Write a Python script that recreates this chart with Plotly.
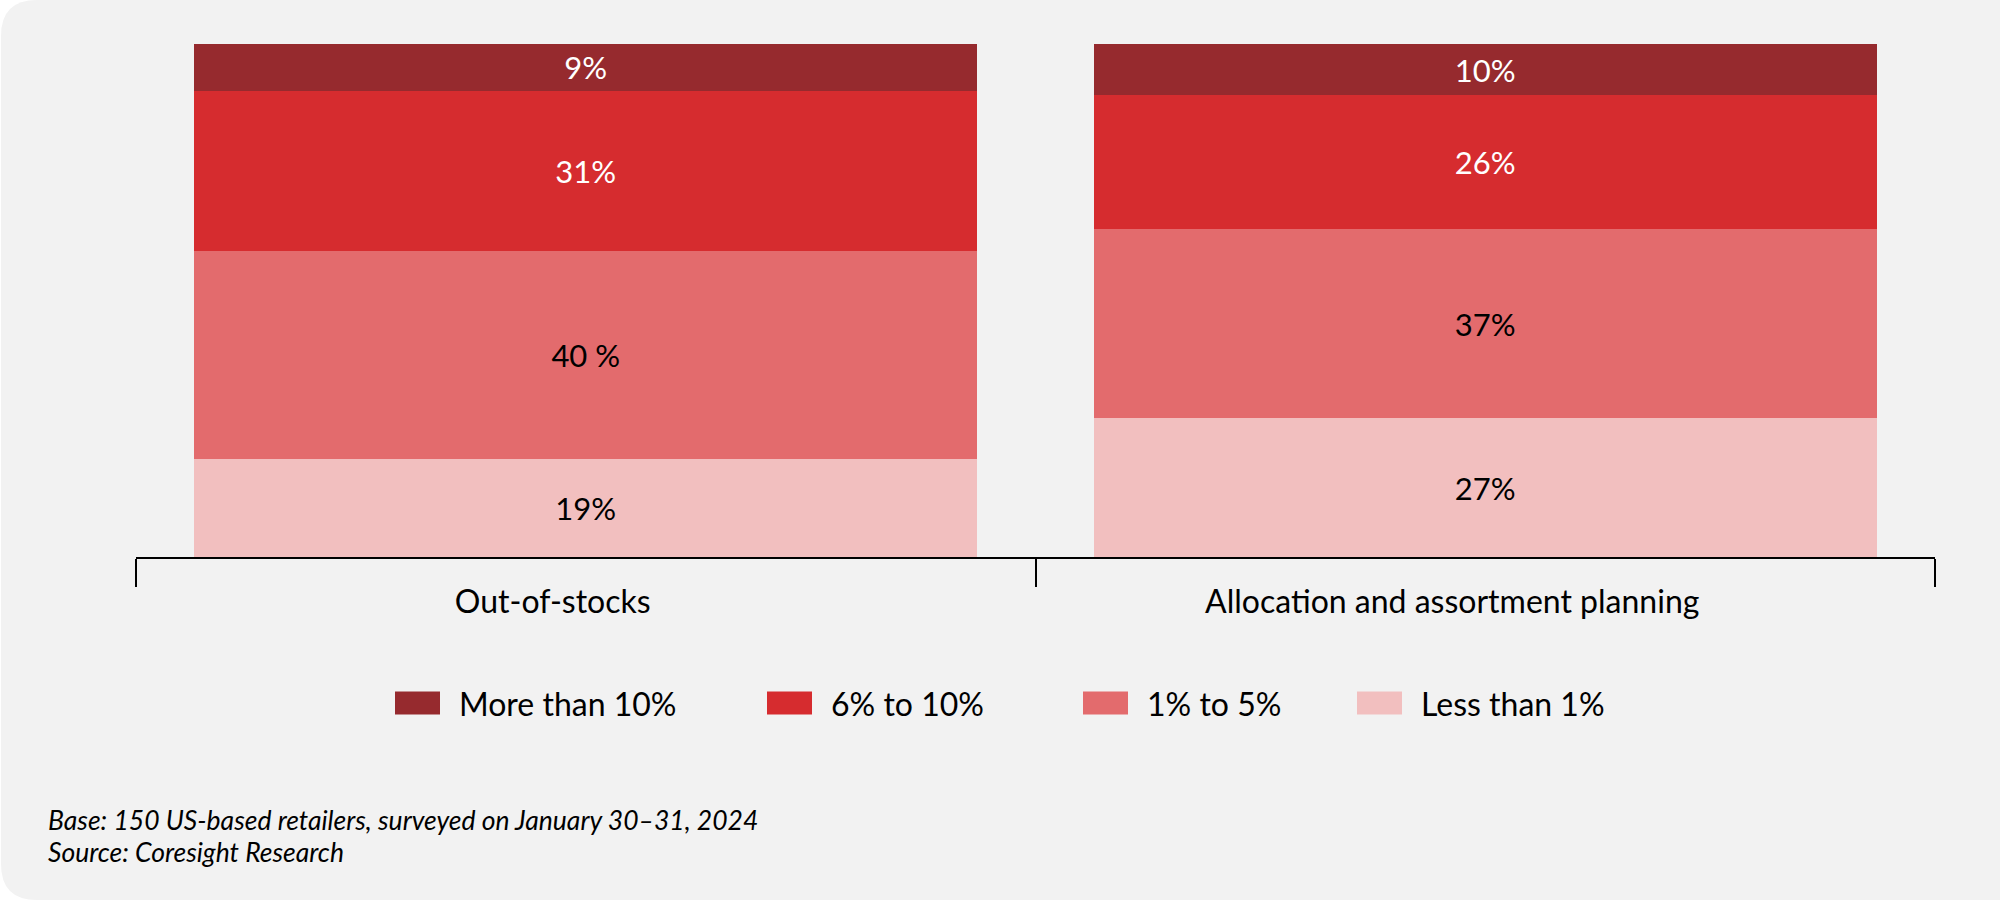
import plotly.graph_objects as go

# ---------------- data ----------------
categories = ["Out-of-stocks", "Allocation and assortment planning"]
series_names = ["More than 10%", "6% to 10%", "1% to 5%", "Less than 1%"]
more_than_10 = [9, 10]
six_to_10 = [31, 26]
one_to_5 = [40, 37]
less_than_1 = [19, 27]
label_more_than_10 = ["9%", "10%"]
label_six_to_10 = ["31%", "26%"]
label_one_to_5 = ["40 %", "37%"]
label_less_than_1 = ["19%", "27%"]
footnote_lines = ["Base: 150 US-based retailers, surveyed on January 30\u201331, 2024",
                  "Source: Coresight Research"]

# ---------------- style ----------------
colors = {"More than 10%": "#962a2e", "6% to 10%": "#d62c2f",
          "1% to 5%": "#e36b6d", "Less than 1%": "#f2bfbf"}
text_colors = {"More than 10%": "white", "6% to 10%": "white",
               "1% to 5%": "black", "Less than 1%": "black"}
FONT = "Lato, 'Open Sans', sans-serif"

W, H = 2000, 908
ML, MR, MT, MB = 136, 65, 44, 351
PW, PH = W - ML - MR, H - MT - MB


def px(x):
    return (x - ML) / PW


def py(y):
    return (H - MB - y) / PH


def P(x, y):
    return f"{px(x):.5f},{py(y):.5f}"


fig = go.Figure()

stack = [("Less than 1%", less_than_1, label_less_than_1),
         ("1% to 5%", one_to_5, label_one_to_5),
         ("6% to 10%", six_to_10, label_six_to_10),
         ("More than 10%", more_than_10, label_more_than_10)]

for name, vals, labels in stack:
    fig.add_trace(go.Bar(
        x=categories, y=vals, name=name, text=labels,
        texttemplate="%{text}", textposition="inside", insidetextanchor="middle",
        textangle=0, constraintext="none",
        textfont=dict(family=FONT, size=31, color=text_colors[name]),
        marker=dict(color=colors[name], line=dict(width=0)),
        width=0.87, showlegend=False, hoverinfo="skip",
    ))

# rounded card background
L, T, R, B, r = 1, 0, 2000, 900, 36
card = (f"M {P(L + r, T)} L {P(R, T)} L {P(R, B)} L {P(L + r, B)} "
        f"Q {P(L, B)} {P(L, B - r)} L {P(L, T + r)} Q {P(L, T)} {P(L + r, T)} Z")
shapes = [dict(type="path", path=card, xref="paper", yref="paper",
               fillcolor="#f2f2f2", line=dict(width=0), layer="below")]

annotations = []
# custom legend
legend_sq_x = [395, 767, 1083, 1357]
legend_y = 703
for name, sx in zip(series_names, legend_sq_x):
    shapes.append(dict(type="rect", xref="paper", yref="paper",
                       x0=px(sx), x1=px(sx + 45), y0=py(legend_y + 11.5), y1=py(legend_y - 11.5),
                       fillcolor=colors[name], line=dict(width=0)))
    annotations.append(dict(text=name, xref="paper", yref="paper", x=px(sx + 62), y=py(legend_y),
                            xanchor="left", yanchor="middle", showarrow=False,
                            font=dict(family=FONT, size=32, color="black")))

# footnotes
for i, line in enumerate(footnote_lines):
    annotations.append(dict(text=f"<i>{line}</i>", xref="paper", yref="paper",
                            x=px(46), y=py(820 + 32 * i), xanchor="left", yanchor="middle",
                            showarrow=False, font=dict(family=FONT, size=26.5, color="black")))

fig.update_layout(
    width=W, height=H,
    margin=dict(l=ML, r=MR, t=MT, b=MB, pad=0),
    barmode="stack", barnorm="percent",
    paper_bgcolor="white", plot_bgcolor="rgba(0,0,0,0)",
    font=dict(family=FONT, size=32, color="black"),
    xaxis=dict(type="category", range=[-0.5, 1.5], showline=True, linecolor="black", linewidth=2,
               ticks="outside", tickson="boundaries", ticklen=28, tickwidth=2, tickcolor="black",
               ticklabelstandoff=16, ticklabelshift=-33,
               tickfont=dict(family=FONT, size=32, color="black"), showgrid=False, zeroline=False,
               fixedrange=True),
    yaxis=dict(range=[0, 100], visible=False, showgrid=False, zeroline=False, fixedrange=True),
    shapes=shapes, annotations=annotations,
    uniformtext=dict(mode=False),
)

fig.write_html("out.html", config={"displayModeBar": False},
               post_script="document.body.style.margin='0';document.body.style.overflow='hidden';")
